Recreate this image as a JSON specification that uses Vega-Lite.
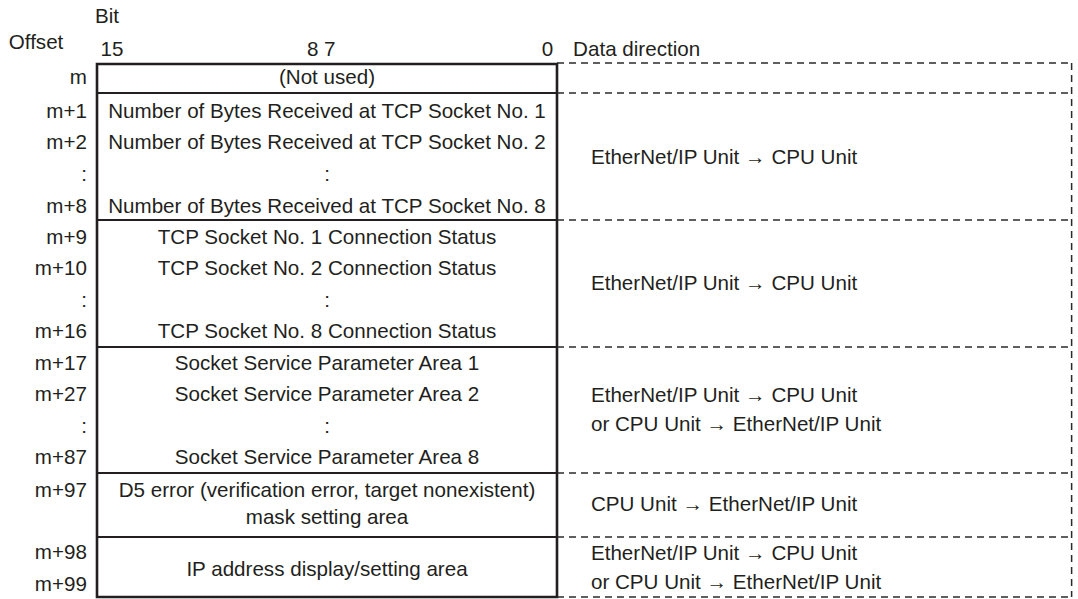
{
  "$schema": "https://vega.github.io/schema/vega-lite/v6.json",
  "width": 1078,
  "height": 599,
  "padding": 0,
  "autosize": {"type": "fit", "contains": "padding"},
  "background": "white",
  "config": {"view": {"stroke": null}, "text": {"font": "Liberation Sans", "fontSize": 20.6, "color": "#231f20"}},
  "datasets": {
    "box": [{"x": 0, "x2": 16, "y": 0, "y2": 16.83}],
    "solid": [
      {"y": 0.916}, {"y": 4.926}, {"y": 8.936}, {"y": 12.914}, {"y": 14.935}
    ],
    "dashH": [
      {"y": -0.03}, {"y": 0.916}, {"y": 4.926}, {"y": 8.936}, {"y": 12.914}, {"y": 14.935}, {"y": 16.83}
    ],
    "dashV": [{"x": 33.9, "y": -0.03, "y2": 16.83}],
    "texts": [
      {"role": "title", "label": "Bit", "x": -0.07, "y": -1.48},
      {"role": "title", "label": "Data direction", "x": 16.56, "y": -0.45},
      {"role": "header", "label": "Offset", "x": -2.12, "y": -0.66},
      {"role": "header", "label": "15", "x": 0.52, "y": -0.45},
      {"role": "header", "label": "8 7", "x": 7.8, "y": -0.45},
      {"role": "header", "label": "0", "x": 15.67, "y": -0.45},

      {"role": "offset", "label": "m", "x": -0.35, "y": 0.44},
      {"role": "offset", "label": "m+1", "x": -0.35, "y": 1.516},
      {"role": "offset", "label": "m+2", "x": -0.35, "y": 2.494},
      {"role": "offset", "label": ":", "x": -0.35, "y": 3.505},
      {"role": "offset", "label": "m+8", "x": -0.35, "y": 4.515},
      {"role": "offset", "label": "m+9", "x": -0.35, "y": 5.494},
      {"role": "offset", "label": "m+10", "x": -0.35, "y": 6.473},
      {"role": "offset", "label": ":", "x": -0.35, "y": 7.48},
      {"role": "offset", "label": "m+16", "x": -0.35, "y": 8.46},
      {"role": "offset", "label": "m+17", "x": -0.35, "y": 9.47},
      {"role": "offset", "label": "m+27", "x": -0.35, "y": 10.45},
      {"role": "offset", "label": ":", "x": -0.35, "y": 11.46},
      {"role": "offset", "label": "m+87", "x": -0.35, "y": 12.44},
      {"role": "offset", "label": "m+97", "x": -0.35, "y": 13.48},
      {"role": "offset", "label": "m+98", "x": -0.35, "y": 15.44},
      {"role": "offset", "label": "m+99", "x": -0.35, "y": 16.45},

      {"role": "content", "label": "(Not used)", "x": 8, "y": 0.44},
      {"role": "content", "label": "Number of Bytes Received at TCP Socket No. 1", "x": 8, "y": 1.516},
      {"role": "content", "label": "Number of Bytes Received at TCP Socket No. 2", "x": 8, "y": 2.494},
      {"role": "content", "label": ":", "x": 8, "y": 3.505},
      {"role": "content", "label": "Number of Bytes Received at TCP Socket No. 8", "x": 8, "y": 4.515},
      {"role": "content", "label": "TCP Socket No. 1 Connection Status", "x": 8, "y": 5.494},
      {"role": "content", "label": "TCP Socket No. 2 Connection Status", "x": 8, "y": 6.473},
      {"role": "content", "label": ":", "x": 8, "y": 7.48},
      {"role": "content", "label": "TCP Socket No. 8 Connection Status", "x": 8, "y": 8.46},
      {"role": "content", "label": "Socket Service Parameter Area 1", "x": 8, "y": 9.47},
      {"role": "content", "label": "Socket Service Parameter Area 2", "x": 8, "y": 10.45},
      {"role": "content", "label": ":", "x": 8, "y": 11.46},
      {"role": "content", "label": "Socket Service Parameter Area 8", "x": 8, "y": 12.44},
      {"role": "content", "label": "D5 error (verification error, target nonexistent)", "x": 8, "y": 13.48},
      {"role": "content", "label": "mask setting area", "x": 8, "y": 14.34},
      {"role": "content", "label": "IP address display/setting area", "x": 8, "y": 15.98},

      {"role": "direction", "label": "EtherNet/IP Unit → CPU Unit", "x": 17.18, "y": 2.96},
      {"role": "direction", "label": "EtherNet/IP Unit → CPU Unit", "x": 17.18, "y": 6.95},
      {"role": "direction", "label": "EtherNet/IP Unit → CPU Unit", "x": 17.18, "y": 10.48},
      {"role": "direction", "label": "or CPU Unit → EtherNet/IP Unit", "x": 17.18, "y": 11.4},
      {"role": "direction", "label": "CPU Unit → EtherNet/IP Unit", "x": 17.18, "y": 13.93},
      {"role": "direction", "label": "EtherNet/IP Unit → CPU Unit", "x": 17.18, "y": 15.47},
      {"role": "direction", "label": "or CPU Unit → EtherNet/IP Unit", "x": 17.18, "y": 16.38}
    ]
  },
  "layer": [
    {
      "data": {"name": "dashH"},
      "mark": {"type": "rule", "stroke": "#2b2b2b", "strokeWidth": 1.5, "strokeDash": [7, 5]},
      "encoding": {
        "x": {"datum": 16, "type": "quantitative", "scale": {"domain": [-3.374, 34.122], "nice": false, "zero": false}, "axis": null},
        "x2": {"datum": 33.9},
        "y": {"field": "y", "type": "quantitative", "scale": {"domain": [-2.021, 16.893], "nice": false, "zero": false, "reverse": true}, "axis": null}
      }
    },
    {
      "data": {"name": "dashV"},
      "mark": {"type": "rule", "stroke": "#2b2b2b", "strokeWidth": 1.5, "strokeDash": [7, 5]},
      "encoding": {
        "x": {"field": "x", "type": "quantitative", "scale": {"domain": [-3.374, 34.122], "nice": false, "zero": false}, "axis": null},
        "y": {"field": "y", "type": "quantitative", "scale": {"domain": [-2.021, 16.893], "nice": false, "zero": false, "reverse": true}, "axis": null},
        "y2": {"field": "y2"}
      }
    },
    {
      "data": {"name": "solid"},
      "mark": {"type": "rule", "stroke": "#231f20", "strokeWidth": 2},
      "encoding": {
        "x": {"datum": 0, "type": "quantitative", "scale": {"domain": [-3.374, 34.122], "nice": false, "zero": false}, "axis": null},
        "x2": {"datum": 16},
        "y": {"field": "y", "type": "quantitative", "scale": {"domain": [-2.021, 16.893], "nice": false, "zero": false, "reverse": true}, "axis": null}
      }
    },
    {
      "data": {"name": "box"},
      "mark": {"type": "rect", "fill": null, "fillOpacity": 0, "stroke": "#231f20", "strokeWidth": 2.6},
      "encoding": {
        "x": {"field": "x", "type": "quantitative", "scale": {"domain": [-3.374, 34.122], "nice": false, "zero": false}, "axis": null},
        "x2": {"field": "x2"},
        "y": {"field": "y", "type": "quantitative", "scale": {"domain": [-2.021, 16.893], "nice": false, "zero": false, "reverse": true}, "axis": null},
        "y2": {"field": "y2"}
      }
    },
    {
      "data": {"name": "texts"},
      "transform": [{"filter": "datum.role === 'content' || datum.role === 'header'"}],
      "mark": {"type": "text", "align": "center", "baseline": "middle"},
      "encoding": {
        "x": {"field": "x", "type": "quantitative", "scale": {"domain": [-3.374, 34.122], "nice": false, "zero": false}, "axis": null},
        "y": {"field": "y", "type": "quantitative", "scale": {"domain": [-2.021, 16.893], "nice": false, "zero": false, "reverse": true}, "axis": null},
        "text": {"field": "label"}
      }
    },
    {
      "data": {"name": "texts"},
      "transform": [{"filter": "datum.role === 'offset'"}],
      "mark": {"type": "text", "align": "right", "baseline": "middle"},
      "encoding": {
        "x": {"field": "x", "type": "quantitative", "scale": {"domain": [-3.374, 34.122], "nice": false, "zero": false}, "axis": null},
        "y": {"field": "y", "type": "quantitative", "scale": {"domain": [-2.021, 16.893], "nice": false, "zero": false, "reverse": true}, "axis": null},
        "text": {"field": "label"}
      }
    },
    {
      "data": {"name": "texts"},
      "transform": [{"filter": "datum.role === 'direction' || datum.role === 'title'"}],
      "mark": {"type": "text", "align": "left", "baseline": "middle"},
      "encoding": {
        "x": {"field": "x", "type": "quantitative", "scale": {"domain": [-3.374, 34.122], "nice": false, "zero": false}, "axis": null},
        "y": {"field": "y", "type": "quantitative", "scale": {"domain": [-2.021, 16.893], "nice": false, "zero": false, "reverse": true}, "axis": null},
        "text": {"field": "label"}
      }
    }
  ]
}
